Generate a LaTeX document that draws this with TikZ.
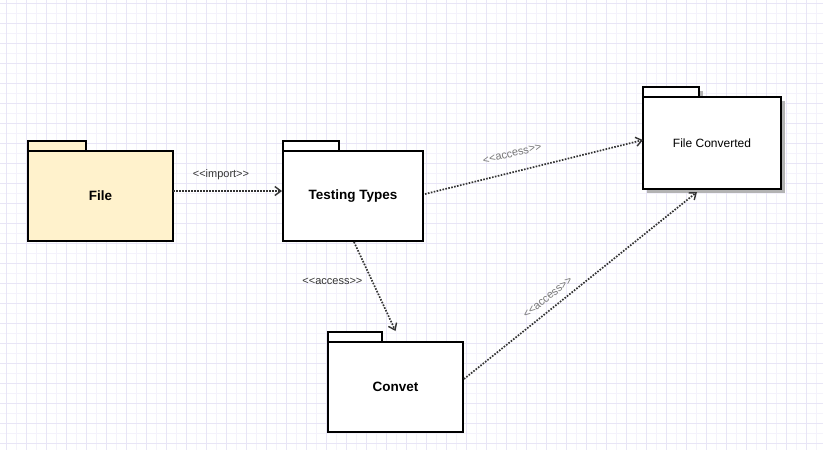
\documentclass[tikz,border=0pt]{standalone}
\usepackage{fontspec}
\setmainfont[Ligatures=NoCommon]{Liberation Sans}
\usetikzlibrary{arrows.meta}
\usetikzlibrary{shadows}
\usetikzlibrary{positioning}

\definecolor{gridminor}{HTML}{F4F2FB}
\definecolor{gridmajor}{HTML}{E8E5F6}
\definecolor{filefill}{HTML}{FFF2CC}
\definecolor{linkgray}{HTML}{333333}
\definecolor{labelgray}{HTML}{777777}
\definecolor{shadowgray}{HTML}{B3B3B3}

\newcommand{\stereo}[1]{<{}<#1>{}>}

\tikzset{
  pkgtab/.style={draw, line width=2pt, fill=white, minimum height=10pt,
    inner sep=0pt, outer sep=0pt, anchor=south west},
  pkgbody/.style={draw, line width=2pt, fill=white, inner sep=0pt, outer sep=0pt,
    anchor=north west, font=\bfseries\fontsize{13.5}{16}\selectfont},
  pkgshadow/.style={drop shadow={shadow xshift=4pt, shadow yshift=-4pt,
    fill=shadowgray, opacity=1}},
  link/.style={draw=linkgray, line width=1.7pt, dash pattern=on 1.6pt off 1.4pt,
    -{Straight Barb[length=6pt, width=9pt, line width=1.4pt]}},
  linklabel/.style={font=\fontsize{11}{13}\selectfont, inner sep=1pt}
}

\begin{document}
\begin{tikzpicture}[x=1pt, y=-1pt]
  % background grid
  \fill[white] (0,0) rectangle (823,450);
  \useasboundingbox (0,0) rectangle (823,450);
  \foreach \gx in {0,...,82}
    \draw[gridminor, line width=0.8pt] (6.7+10*\gx,0) -- (6.7+10*\gx,450);
  \foreach \gy in {0,...,44}
    \draw[gridminor, line width=0.8pt] (0,3.3+10*\gy) -- (823,3.3+10*\gy);
  \foreach \gx in {0,...,41}
    \draw[gridmajor, line width=0.8pt] (6.7+20*\gx,0) -- (6.7+20*\gx,450);
  \foreach \gy in {0,...,22}
    \draw[gridmajor, line width=0.8pt] (0,3.3+20*\gy) -- (823,3.3+20*\gy);

  % packages
  \node[pkgtab, fill=filefill, minimum width=58pt] (filetab) at (28,151) {};
  \node[pkgbody, fill=filefill, minimum width=145pt, minimum height=90pt]
    (file) at (filetab.south west) {File};

  \node[pkgtab, minimum width=56pt] (testtab) at (283,151) {};
  \node[pkgbody, minimum width=140pt, minimum height=90pt]
    (test) at (testtab.south west) {Testing Types};

  \node[pkgtab, pkgshadow, minimum width=56pt] (convtab) at (643,97) {};
  \node[pkgbody, pkgshadow, minimum width=138pt, minimum height=92pt,
    font=\fontsize{12}{14}\selectfont] (conv) at (convtab.south west) {File Converted};

  \node[pkgtab, minimum width=54pt] (convettab) at (328,342) {};
  \node[pkgbody, minimum width=135pt, minimum height=90pt]
    (convet) at (convettab.south west) {Convet};

  % dependencies
  \draw[link] ([yshift=5pt]file.east) -- ([yshift=5pt,xshift=-1pt]test.west)
    node[linklabel, text=linkgray, pos=0.44, above=9pt] {\stereo{import}};
  \draw[link] ([xshift=2pt,yshift=2pt]test.east) -- ([yshift=3pt]conv.west)
    node[linklabel, text=labelgray, sloped, pos=0.42, above=13pt] {\stereo{access}};
  \draw[link] ([xshift=1pt,yshift=-1pt]test.south) -- ([yshift=11pt]convet.north)
    node[linklabel, text=linkgray, pos=0.44, left=8pt] {\stereo{access}};
  \draw[link] ([xshift=1pt,yshift=8pt]convet.east) -- ([xshift=-15pt,yshift=-3pt]conv.south)
    node[linklabel, text=labelgray, sloped, pos=0.39, above=6pt] {\stereo{access}};
\end{tikzpicture}
\end{document}
